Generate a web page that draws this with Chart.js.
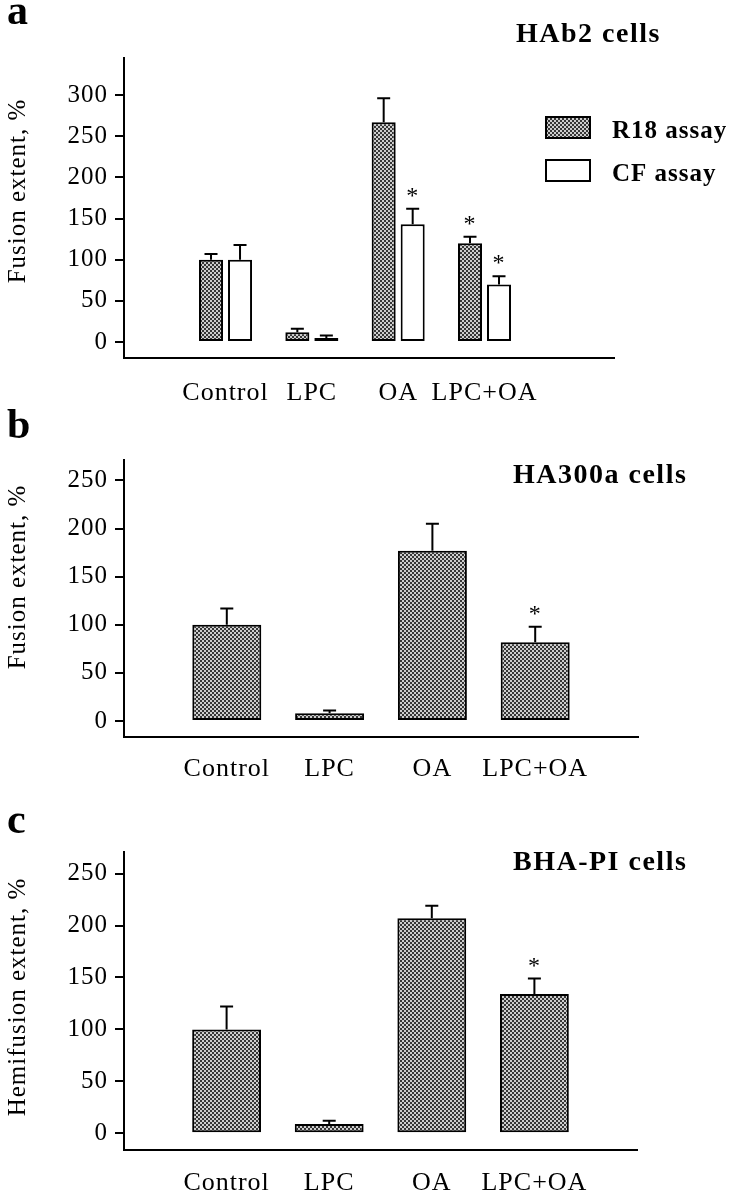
<!DOCTYPE html>
<html lang="en">
<head>
<meta charset="UTF-8">
<title>Fusion extent</title>
<script src="https://cdn.jsdelivr.net/npm/chart.js"></script>
<style>
    body { margin: 0; background: #fff; }
    #wrap { position: relative; width: 735px; height: 1199px; }
    canvas { position: absolute; left: 0; }
</style>
</head>
<body>
<div id="wrap">
    <canvas id="chartA" width="735" height="410" style="top:0px"></canvas>
    <canvas id="chartB" width="735" height="400" style="top:400px"></canvas>
    <canvas id="chartC" width="735" height="399" style="top:800px"></canvas>
</div>
<script>
const categories = ['Control', 'LPC', 'OA', 'LPC+OA'];
const positions = [1, 2, 3, 4];
const yTicksA = [0, 50, 100, 150, 200, 250, 300];
const yTicksBC = [0, 50, 100, 150, 200, 250];

// panel a - HAb2 cells
const hab2R18 = [100, 12, 267, 120];
const hab2R18Err = [107, 16, 296, 128];
const hab2R18Star = [false, false, false, true];
const hab2CF = [100, 5, 143, 70];
const hab2CFErr = [118, 8, 162, 80];
const hab2CFStar = [false, false, true, true];

// panel b - HA300a cells
const ha300a = [100, 8, 177, 82];
const ha300aErr = [117, 11, 205, 98];
const ha300aStar = [false, false, false, true];

// panel c - BHA-PI cells
const bhapi = [100, 9, 207, 134];
const bhapiErr = [122, 12, 219, 149];
const bhapiStar = [false, false, false, true];

const SERIF = '"Liberation Serif", "Times New Roman", serif';
Chart.defaults.color = '#000';
Chart.defaults.font.family = SERIF;

function hatch(ctx) {
    const c = document.createElement('canvas');
    c.width = 4; c.height = 4;
    const g = c.getContext('2d');
    g.fillStyle = '#cdcdcd';
    g.fillRect(0, 0, 4, 4);
    g.fillStyle = '#363636';
    g.fillRect(0, 0, 2, 2);
    g.fillRect(2, 2, 2, 2);
    return ctx.createPattern(c, 'repeat');
}

function toPoints(vals) {
    return positions.map((x, i) => ({ x: x, y: vals[i] }));
}

// error bars, asterisks, panel letter, titles and legend
const annotate = {
    id: 'annotate',
    beforeDraw(chart) {
        chart.ctx.letterSpacing = '1px';
    },
    afterDatasetsDraw(chart, args, o) {
        const ctx = chart.ctx;
        const y = chart.scales.y;
        ctx.save();
        ctx.strokeStyle = '#000';
        ctx.fillStyle = '#000';
        ctx.lineWidth = 2;
        chart.data.datasets.forEach((ds, di) => {
            chart.getDatasetMeta(di).data.forEach((bar, i) => {
                const top = y.getPixelForValue(ds.err[i]);
                ctx.beginPath();
                ctx.moveTo(bar.x, bar.y);
                ctx.lineTo(bar.x, top);
                ctx.moveTo(bar.x - 6.5, top);
                ctx.lineTo(bar.x + 6.5, top);
                ctx.stroke();
                if (ds.stars[i]) {
                    ctx.font = '24px ' + SERIF;
                    ctx.textAlign = 'center';
                    ctx.textBaseline = 'alphabetic';
                    ctx.fillText('*', bar.x, top - 6);
                }
            });
        });

        ctx.textAlign = 'left';
        ctx.textBaseline = 'alphabetic';
        ctx.font = 'bold 42px ' + SERIF;
        ctx.fillText(o.letter, 7, o.letterY);
        ctx.letterSpacing = '1.5px';
        ctx.font = 'bold 28px ' + SERIF;
        ctx.fillText(o.title, o.titleX, o.titleY);

        if (o.legend) {
            ctx.letterSpacing = '1px';
            ctx.font = 'bold 25px ' + SERIF;
            chart.data.datasets.forEach((ds, di) => {
                const by = 117 + di * 43;
                ctx.fillStyle = ds.backgroundColor;
                ctx.fillRect(546, by, 44, 21);
                ctx.strokeRect(546, by, 44, 21);
                ctx.fillStyle = '#000';
                ctx.fillText(ds.label, 612, by + 21);
            });
        }

        // y axis title
        ctx.letterSpacing = '1px';
        ctx.font = '25px ' + SERIF;
        ctx.translate(18, o.yTitleY);
        ctx.rotate(-Math.PI / 2);
        ctx.textAlign = 'center';
        ctx.textBaseline = 'middle';
        ctx.fillText(o.yTitle, 0, 0);
        ctx.restore();
    }
};

function makeChart(id, cfg) {
    const ctx = document.getElementById(id).getContext('2d');
    const pattern = hatch(ctx);
    const datasets = cfg.series.map(s => ({
        label: s.label,
        data: toPoints(s.values),
        err: s.err,
        stars: s.stars,
        backgroundColor: s.hollow ? '#fff' : pattern,
        borderColor: '#000',
        borderWidth: 2,
        borderSkipped: false,
        categoryPercentage: cfg.catPct,
        barPercentage: cfg.barPct
    }));
    return new Chart(ctx, {
        type: 'bar',
        data: { datasets },
        plugins: [annotate],
        options: {
            responsive: false,
            animation: false,
            layout: { padding: { top: cfg.padTop, right: cfg.padRight, left: 0, bottom: 0 } },
            plugins: {
                legend: { display: false },
                tooltip: { enabled: false },
                annotate: cfg.annotate
            },
            scales: {
                x: {
                    type: 'linear',
                    min: cfg.xMin,
                    max: cfg.xMax,
                    offset: false,
                    afterFit: s => { s.height = cfg.xHeight; },
                    afterBuildTicks: s => { s.ticks = positions.map(v => ({ value: v })); },
                    grid: { display: false, offset: false },
                    border: { display: true, color: '#000', width: 2 },
                    ticks: {
                        autoSkip: false,
                        maxRotation: 0,
                        padding: cfg.labelPad,
                        font: { size: 26 },
                        callback: v => categories[positions.indexOf(v)]
                    }
                },
                y: {
                    min: cfg.yMin,
                    max: cfg.yMax,
                    afterFit: s => { s.width = 124; },
                    afterBuildTicks: s => { s.ticks = cfg.yTicks.map(v => ({ value: v })); },
                    grid: { drawOnChartArea: false, drawTicks: true, tickLength: 9, color: '#000', lineWidth: 2 },
                    border: { display: true, color: '#000', width: 2 },
                    ticks: { padding: 7, font: { size: 25 } }
                }
            }
        }
    });
}

makeChart('chartA', {
    series: [
        { label: 'R18 assay', values: hab2R18, err: hab2R18Err, stars: hab2R18Star, hollow: false },
        { label: 'CF assay', values: hab2CF, err: hab2CFErr, stars: hab2CFStar, hollow: true }
    ],
    catPct: 0.672, barPct: 0.828,
    xMin: -0.176, xMax: 5.5,
    yMin: -19.4, yMax: 345, yTicks: yTicksA,
    padTop: 58, padRight: 121, xHeight: 52, labelPad: 12,
    annotate: { letter: 'a', letterY: 24, title: 'HAb2 cells', titleX: 516, titleY: 42, legend: true,
                yTitle: 'Fusion extent, %', yTitleY: 191 }
});

makeChart('chartB', {
    series: [{ label: 'HA300a', values: ha300a, err: ha300aErr, stars: ha300aStar, hollow: false }],
    catPct: 1, barPct: 0.671,
    xMin: 0, xMax: 5,
    yMin: -16.6, yMax: 271.3, yTicks: yTicksBC,
    padTop: 60, padRight: 97, xHeight: 63, labelPad: 9,
    annotate: { letter: 'b', letterY: 38, title: 'HA300a cells', titleX: 513, titleY: 83, legend: false,
                yTitle: 'Fusion extent, %', yTitleY: 177 }
});

makeChart('chartC', {
    series: [{ label: 'BHA-PI', values: bhapi, err: bhapiErr, stars: bhapiStar, hollow: false }],
    catPct: 1, barPct: 0.671,
    xMin: 0, xMax: 5,
    yMin: -16.1, yMax: 270.8, yTicks: yTicksBC,
    padTop: 52, padRight: 98, xHeight: 49, labelPad: 10,
    annotate: { letter: 'c', letterY: 33, title: 'BHA-PI cells', titleX: 513, titleY: 70, legend: false,
                yTitle: 'Hemifusion extent, %', yTitleY: 197 }
});
</script>
</body>
</html>
